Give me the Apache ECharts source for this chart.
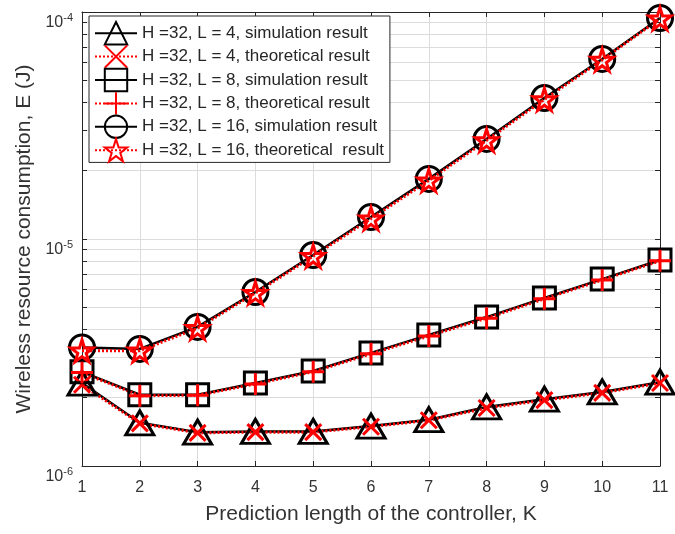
<!DOCTYPE html>
<html>
<head>
<meta charset="utf-8">
<script src="https://cdn.jsdelivr.net/npm/echarts@6/dist/echarts.min.js"></script>
<style>html,body{margin:0;padding:0;background:#fff}#c{width:675px;height:534px}</style>
</head>
<body>
<div id="c"></div>
<script>
var categories = [1, 2, 3, 4, 5, 6, 7, 8, 9, 10, 11];
var simL4  = [2.32e-6, 1.55e-6, 1.41e-6, 1.42e-6, 1.42e-6, 1.50e-6, 1.60e-6, 1.82e-6, 1.97e-6, 2.12e-6, 2.34e-6];
var theoL4 = [2.28e-6, 1.54e-6, 1.40e-6, 1.41e-6, 1.41e-6, 1.49e-6, 1.59e-6, 1.80e-6, 1.95e-6, 2.10e-6, 2.32e-6];
var simL8  = [2.60e-6, 2.06e-6, 2.06e-6, 2.32e-6, 2.62e-6, 3.15e-6, 3.78e-6, 4.53e-6, 5.50e-6, 6.66e-6, 8.08e-6];
var theoL8 = [2.58e-6, 2.04e-6, 2.05e-6, 2.30e-6, 2.60e-6, 3.12e-6, 3.74e-6, 4.48e-6, 5.45e-6, 6.60e-6, 8.02e-6];
var simL16  = [3.33e-6, 3.28e-6, 4.10e-6, 5.84e-6, 8.50e-6, 1.25e-5, 1.84e-5, 2.76e-5, 4.18e-5, 6.21e-5, 9.41e-5];
var theoL16 = [3.22e-6, 3.22e-6, 4.05e-6, 5.78e-6, 8.40e-6, 1.23e-5, 1.81e-5, 2.72e-5, 4.12e-5, 6.15e-5, 9.35e-5];
var seriesNames = [
  'H =32, L = 4, simulation result',
  'H =32, L = 4, theoretical result',
  'H =32, L = 8, simulation result',
  'H =32, L = 8, theoretical result',
  'H =32, L = 16, simulation result',
  'H =32, L = 16, theoretical  result'
];
var yMajorTicks = [1e-6, 1e-5, 1e-4];
var yMinorGrid = [2e-6,3e-6,4e-6,5e-6,6e-6,7e-6,8e-6,9e-6,2e-5,3e-5,4e-5,5e-5,6e-5,7e-5,8e-5,9e-5];
var yAllTicks = yMajorTicks.concat(yMinorGrid);
var xLabel = 'Prediction length of the controller, K';
var yLabel = 'Wireless resource consumption, E (J)';

var X_PATH = 'path://M0,0L10,10M10,0L0,10';
var PLUS_PATH = 'path://M5,0L5,10M0,5L10,5';
var STAR_PATH = 'path://M10,0L12.245,6.91L19.511,6.91L13.633,11.18L15.878,18.09L10,13.82L4.122,18.09L6.367,11.18L0.489,6.91L7.755,6.91Z';

function pairs(arr) { return categories.map(function (k, i) { return [k, arr[i]]; }); }

function simSeries(name, data, symbol, size) {
  return {
    name: name, type: 'line', data: pairs(data), symbol: symbol, symbolSize: size,
    lineStyle: { color: '#000', width: 2.5 },
    itemStyle: { color: 'transparent', borderColor: '#000', borderWidth: 3 },
    emphasis: { disabled: true }, animation: false
  };
}
function theoSeries(name, data, symbol, size) {
  return {
    name: name, type: 'line', data: pairs(data), symbol: symbol, symbolSize: size,
    lineStyle: { color: '#ff0000', width: 3, type: [2, 2] },
    itemStyle: { color: 'transparent', borderColor: '#ff0000', borderWidth: 3 },
    emphasis: { disabled: true }, animation: false
  };
}

var series = [
  simSeries(seriesNames[0], simL4, 'triangle', [28, 24]),
  theoSeries(seriesNames[1], theoL4, X_PATH, 16),
  simSeries(seriesNames[2], simL8, 'rect', 22),
  theoSeries(seriesNames[3], theoL8, PLUS_PATH, 22),
  simSeries(seriesNames[4], simL16, 'circle', 25),
  theoSeries(seriesNames[5], theoL16, STAR_PATH, 22)
];
series[0].markLine = {
  silent: true, symbol: 'none', animation: false,
  label: { show: false },
  lineStyle: { color: '#d4d4d4', width: 1, type: [2, 3] },
  data: yMinorGrid.map(function (v) { return { yAxis: v }; })
};

function supLabel(v) {
  var e = Math.round(Math.log10(v));
  return '{b|10}{s|' + e + '}';
}
var labelRich = {
  b: { fontSize: 16, color: '#333', fontFamily: 'Liberation Sans', verticalAlign: 'top', padding: [3, 0, 0, 0] },
  s: { fontSize: 11, color: '#333', fontFamily: 'Liberation Sans', verticalAlign: 'top' }
};

var chart = echarts.init(document.getElementById('c'), null, { renderer: 'canvas' });
chart.setOption({
  backgroundColor: '#fff',
  animation: false,
  grid: { left: 82, right: 15, top: 12, bottom: 68, containLabel: false },
  legend: {
    orient: 'vertical', left: 89, top: 16,
    padding: [5, 6, 0, 5],
    itemWidth: 42, itemHeight: 28, itemGap: -1,
    backgroundColor: '#fff', borderColor: '#262626', borderWidth: 1,
    textStyle: { fontSize: 17, color: '#262626', fontFamily: 'Liberation Sans' },
    data: seriesNames
  },
  xAxis: [{
    type: 'value', min: 1, max: 11, interval: 1,
    name: xLabel, nameLocation: 'middle', nameGap: 38,
    nameTextStyle: { fontSize: 21, color: '#333', fontFamily: 'Liberation Sans' },
    axisLine: { show: true, onZero: false, lineStyle: { color: '#262626', width: 1 } },
    axisTick: { show: true, inside: true, length: 5, lineStyle: { color: '#262626' } },
    axisLabel: { fontSize: 16, color: '#333', margin: 14, fontFamily: 'Liberation Sans' },
    splitLine: { show: true, lineStyle: { color: '#dcdcdc', width: 1 } }
  }, {
    type: 'value', min: 1, max: 11, interval: 1, position: 'top',
    axisLine: { show: true, onZero: false, lineStyle: { color: '#262626', width: 1 } },
    axisTick: { show: true, inside: true, length: 5, lineStyle: { color: '#262626' } },
    axisLabel: { show: false }, splitLine: { show: false }
  }],
  yAxis: [{
    type: 'log', logBase: 10, min: 1e-6, max: 1e-4,
    name: yLabel, nameLocation: 'middle', nameGap: 44,
    nameTextStyle: { fontSize: 21, color: '#333', fontFamily: 'Liberation Sans' },
    axisLine: { show: true, onZero: false, lineStyle: { color: '#262626', width: 1 } },
    axisTick: { show: true, inside: true, length: 5, customValues: yAllTicks, lineStyle: { color: '#262626' } },
    axisLabel: { margin: 9, verticalAlign: 'top', customValues: yMajorTicks, formatter: supLabel, rich: labelRich },
    splitLine: { show: true, lineStyle: { color: '#dcdcdc', width: 1 } }
  }, {
    type: 'log', logBase: 10, min: 1e-6, max: 1e-4, position: 'right',
    axisLine: { show: true, onZero: false, lineStyle: { color: '#262626', width: 1 } },
    axisTick: { show: true, inside: true, length: 5, customValues: yAllTicks, lineStyle: { color: '#262626' } },
    axisLabel: { show: false }, splitLine: { show: false }
  }],
  series: series
});
</script>
</body>
</html>
